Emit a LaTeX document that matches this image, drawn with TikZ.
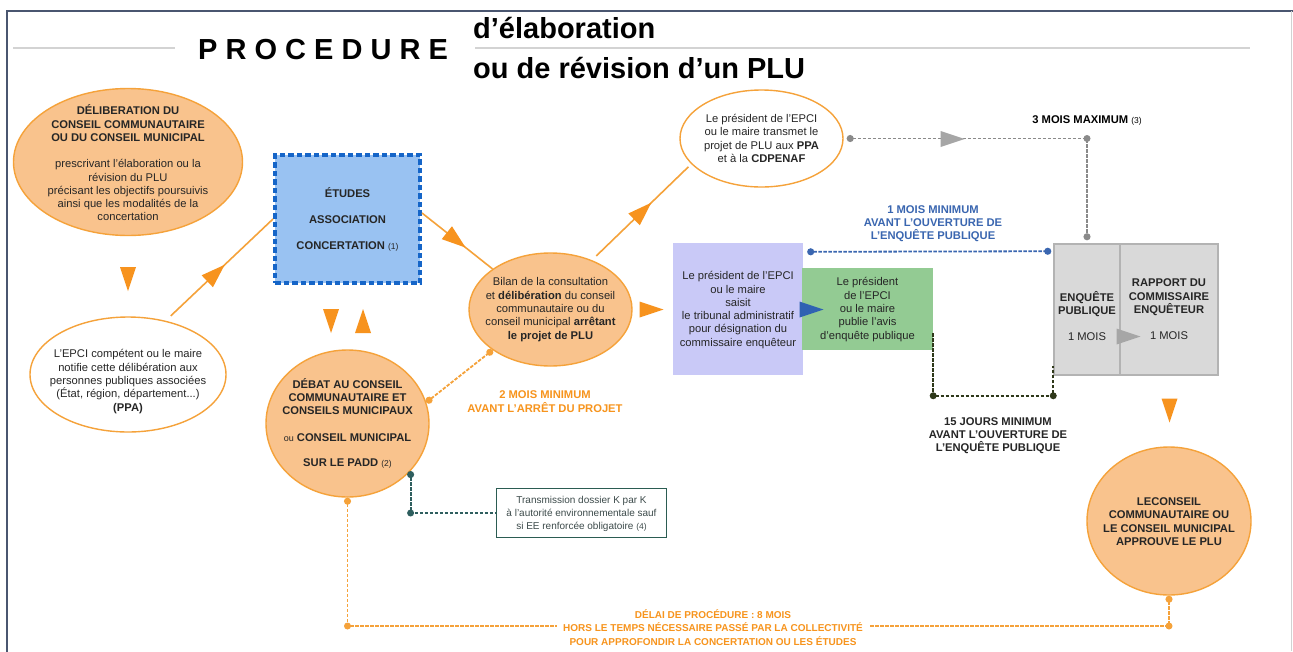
\documentclass[tikz,border=0pt]{standalone}
\usepackage{fontspec}
\setmainfont{Liberation Sans}
\usetikzlibrary{shapes.geometric,arrows.meta,decorations.markings,calc}
\definecolor{orFill}{HTML}{F9C38D}
\definecolor{orLine}{HTML}{F5A23A}
\definecolor{orTri}{HTML}{F7931E}
\definecolor{orTxt}{HTML}{F7941D}
\definecolor{blueDash}{HTML}{1565C8}
\definecolor{blueFill}{HTML}{99C2F2}
\definecolor{lavFill}{HTML}{C9C9F7}
\definecolor{grnFill}{HTML}{93CB93}
\definecolor{greyFill}{HTML}{D9D9D9}
\definecolor{greyLine}{HTML}{B3B3B3}
\definecolor{blueLine}{HTML}{3A66B0}
\definecolor{blueTri}{HTML}{2F62B2}
\definecolor{gLine}{HTML}{8A8A8A}
\definecolor{gTri}{HTML}{A6A6A6}
\definecolor{olive}{HTML}{2E3819}
\definecolor{teal}{HTML}{2E5E5E}
\definecolor{tealBox}{HTML}{2B5C52}
\definecolor{txtc}{HTML}{262626}
\definecolor{jTxt}{HTML}{3D4B4B}
\definecolor{frameC}{HTML}{4A5670}
\definecolor{titleLine}{HTML}{D3D3D3}
\newcommand{\sm}[1]{{\fontsize{8.5}{10}\selectfont\mdseries #1}}
\newcommand{\ptri}[4]{\fill[#4, shift={(#1,#2)}, rotate=#3] (12,0) -- (-12,8) -- (-12,-8) -- cycle;}
\tikzset{
  txt/.style={align=center, font=\fontsize{11.2}{13.3}\selectfont, text=txtc, inner sep=0pt},
  lab/.style={align=center, font=\fontsize{11.2}{13.3}\selectfont\bfseries, inner sep=0pt},
  oell/.style={ellipse, draw=orLine, line width=1.4pt, fill=orFill, inner sep=0pt},
  well/.style={ellipse, draw=orLine, line width=1.4pt, fill=white, inner sep=0pt},
  oline/.style={draw=orLine, line width=1.6pt},
  midarrow/.style={postaction={decorate}, decoration={markings, mark=at position #1 with {\arrow{Triangle[length=24pt,width=16pt,color=orTri,fill=orTri]}}}},
  dotline/.style={line width=1.8pt, dash pattern=on 3.5pt off 1.5pt},
  dots/.style={{Circle[length=7pt]}-{Circle[length=7pt]}},
  cdot/.style={circle, fill=#1, inner sep=0pt, minimum size=7pt},
}
\begin{document}
\begin{tikzpicture}[x=1pt,y=-1pt]
\useasboundingbox (0,0) rectangle (1293,651);
\fill[white] (0,0) rectangle (1293,651);
% frame
\draw[frameC, line width=2pt] (7,660) -- (7,11) -- (1293,11);
\draw[gray!35, line width=1pt] (1291,11) -- (1291,651);
% title
\draw[titleLine, line width=1.5pt] (13,48) -- (175,48);
\draw[titleLine, line width=1.5pt] (475,48) -- (1250,48);
\node[font=\fontsize{29}{30}\selectfont\bfseries, text=black, inner sep=0pt] (T1) at (323,50) {P R O C E D U R E};
\node[font=\fontsize{29}{30}\selectfont\bfseries, text=black, inner sep=0pt, anchor=west] (T2) at (473,28) {d’élaboration};
\node[font=\fontsize{29}{30}\selectfont\bfseries, text=black, inner sep=0pt, anchor=west] (T3) at (473,68) {ou de révision d’un PLU};

% shapes
\node[oell, minimum width=229pt, minimum height=147pt] (A) at (128,162) {};
\node[well, minimum width=196pt, minimum height=115pt] (B) at (128,374.5) {};
\node[draw=blueDash, line width=4pt, dash pattern=on 5.5pt off 3pt, fill=blueFill, minimum width=145pt, minimum height=128pt, inner sep=0pt] (E1) at (347.5,219) {};
\node[oell, minimum width=163pt, minimum height=147pt] (C) at (347.5,423.5) {};
\node[oell, minimum width=163pt, minimum height=113pt] (D) at (550.5,309.5) {};
\node[well, minimum width=163pt, minimum height=97pt] (E) at (761.5,138.5) {};
\node[fill=lavFill, minimum width=130pt, minimum height=132pt, inner sep=0pt] (F) at (738,309) {};
\node[fill=grnFill, minimum width=131pt, minimum height=82pt, inner sep=0pt] (G) at (867.5,309) {};
\node[draw=greyLine, line width=1.5pt, fill=greyFill, minimum width=66pt, minimum height=131pt, inner sep=0pt] (H1) at (1087,309.5) {};
\node[draw=greyLine, line width=1.5pt, fill=greyFill, minimum width=98pt, minimum height=131pt, inner sep=0pt] (H2) at (1169,309.5) {};
\node[oell, minimum width=164pt, minimum height=148pt] (I) at (1169,521) {};
\node[draw=tealBox, line width=1.8pt, fill=white, minimum width=170pt, minimum height=49pt, inner sep=0pt] (J) at (581.5,513) {};

% connectors
\draw[oline, midarrow=0.55, shorten <=7pt] (B.55) -- (E1.west);
\draw[oline, midarrow=0.62] ([yshift=6pt]E1.east) -- (D.145);
\draw[oline, midarrow=0.6, shorten <=6pt, shorten >=4pt] (D.50) -- (E.200);
\draw[orLine, dotline, dots] (C.15) -- (D.215);
% grey 3 mois
\coordinate (g1) at (H1.north |- E.east);
\draw[gLine, dotline, dots] ([xshift=3pt]E.east) -| ([yshift=3pt]H1.north);
\node[cdot=gLine] (g1d) at (g1) {};
% blue 1 mois
\draw[blueLine, dotline, dots] ([xshift=4pt,yshift=-9pt]F.north east) -- ([xshift=-2pt,yshift=-8pt]H1.north west);
% olive 15 jours
\coordinate (k1) at ([yshift=17pt]G.south east);
\coordinate (k2) at ([yshift=-20pt]H1.south west);
\coordinate (k3) at ([yshift=10pt]H1.south west);
\coordinate (k4) at (k1 |- k2);
\draw[olive, dotline, line width=2.2pt] (k1) -- (k4) -- (k2) -- (k3);
\node[cdot=olive] (k4d) at (k4) {};
\node[cdot=olive] (k2d) at (k2) {};
% orange delai
\coordinate (oc1) at (347.5,626);
\coordinate (oc2) at (1169,626);
\draw[orLine, dotline, dots] (C.south) -- (oc1) -- (oc2) -- (I.south);
\node[cdot=orLine] (oc1d) at (oc1) {};
\node[cdot=orLine] (oc2d) at (oc2) {};
% teal
\coordinate (t1) at (C.-37 |- J.west);
\draw[teal, dotline, {Circle[length=7pt]}-] (C.-37) |- (J.west);
\node[cdot=teal] (t1d) at (t1) {};

% standalone triangles
\ptri{128}{279}{-90}{orTri}
\ptri{331}{321}{-90}{orTri}
\ptri{363}{321}{90}{orTri}
\ptri{651.5}{309.5}{0}{orTri}
\ptri{811.5}{309.5}{0}{blueTri}
\ptri{952.5}{139}{0}{gTri}
\ptri{1128.5}{336.5}{0}{gTri}
\ptri{1169.5}{410.5}{-90}{orTri}

% texts
\node[txt] (At) at (128,163) {\textbf{DÉLIBERATION DU}\\\textbf{CONSEIL COMMUNAUTAIRE}\\\textbf{OU DU CONSEIL MUNICIPAL}\\[13pt]prescrivant l’élaboration ou la\\révision du PLU\\précisant les objectifs poursuivis\\ainsi que les modalités de la\\concertation};
\node[txt] (Bt) at (128,381.5) {L’EPCI compétent ou le maire\\notifie cette délibération aux\\personnes publiques associées\\(État, région, département...)\\\textbf{(PPA)}};
\node[txt] (E1t) at (347.5,219.5) {\textbf{ÉTUDES}\\[13pt]\textbf{ASSOCIATION}\\[13pt]\textbf{CONCERTATION} \sm{(1)}};
\node[txt] (Ct) at (347.5,423.5) {\textbf{DÉBAT AU CONSEIL}\\\textbf{COMMUNAUTAIRE ET}\\\textbf{CONSEILS MUNICIPAUX}\\[13pt]{\fontsize{9}{10}\selectfont ou} \textbf{CONSEIL MUNICIPAL}\\[12.5pt]\textbf{SUR LE PADD} \sm{(2)}};
\node[txt] (Dt) at (550.5,309.5) {Bilan de la consultation\\et \textbf{délibération} du conseil\\communautaire ou du\\conseil municipal \textbf{arrêtant}\\\textbf{le projet de PLU}};
\node[txt] (Et) at (761.5,138.5) {Le président de l’EPCI\\ou le maire transmet le\\projet de PLU aux \textbf{PPA}\\et à la \textbf{CDPENAF}};
\node[txt] (Ft) at (738,310) {Le président de l’EPCI\\ou le maire\\saisit\\le tribunal administratif\\pour désignation du\\commissaire enquêteur};
\node[txt] (Gt) at (867.5,309.5) {Le président\\de l’EPCI\\ou le maire\\publie l’avis\\d’enquête publique};
\node[txt] (H1t) at (1087,316) {\textbf{ENQUÊTE}\\\textbf{PUBLIQUE}\\[13pt]1 MOIS};
\node[txt] (H2t) at (1169,309.5) {\textbf{RAPPORT DU}\\\textbf{COMMISSAIRE}\\\textbf{ENQUÊTEUR}\\[13pt]1 MOIS};
\node[txt] (It) at (1169,521.5) {\textbf{LECONSEIL}\\\textbf{COMMUNAUTAIRE OU}\\\textbf{LE CONSEIL MUNICIPAL}\\\textbf{APPROUVE LE PLU}};
\node[txt, font=\fontsize{10}{13}\selectfont, text=jTxt] (Jt) at (581.5,514) {Transmission dossier K par K\\à l’autorité environnementale sauf\\si EE renforcée obligatoire \sm{(4)}};

% labels
\node[lab, text=orTxt] (L2) at (545,401.5) {2 MOIS MINIMUM\\AVANT L’ARRÊT DU PROJET};
\node[lab, text=blueLine] (L1) at (933,223.5) {1 MOIS MINIMUM\\AVANT L’OUVERTURE DE\\L’ENQUÊTE PUBLIQUE};
\node[lab, text=black] (L3) at (1087,120) {3 MOIS MAXIMUM \sm{(3)}};
\node[lab, text=txtc] (L15) at (998,435.5) {15 JOURS MINIMUM\\AVANT L’OUVERTURE DE\\L’ENQUÊTE PUBLIQUE};
\node[lab, font=\fontsize{10}{13.5}\selectfont\bfseries, text=orTxt, fill=white, inner xsep=6pt, inner ysep=1pt] (Ld) at (713,627.5) {DÉLAI DE PROCÉDURE : 8 MOIS\\HORS LE TEMPS NÉCESSAIRE PASSÉ PAR LA COLLECTIVITÉ\\POUR APPROFONDIR LA CONCERTATION OU LES ÉTUDES};
\end{tikzpicture}
\end{document}
